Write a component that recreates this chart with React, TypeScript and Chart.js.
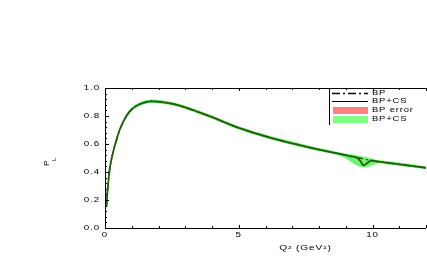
import React, { useEffect, useRef } from "react";
import { Chart, registerables } from "chart.js";

Chart.register(...registerables);

// ---- data ----
const Q2 = [0.05, 0.1, 0.15, 0.2, 0.3, 0.4, 0.5, 0.6, 0.8, 1.0, 1.25, 1.5, 1.75, 2.0, 2.5, 3.0, 3.5, 4.0, 5.0, 6.0, 7.0, 8.0, 8.8, 9.0, 9.2, 9.4, 9.55, 9.66, 9.8, 9.95, 10.1, 10.3, 10.5, 11.0, 12.0];
const BP = [0.15, 0.28, 0.38, 0.45, 0.54, 0.61, 0.675, 0.725, 0.8, 0.848, 0.88, 0.898, 0.905, 0.902, 0.888, 0.862, 0.828, 0.792, 0.715, 0.655, 0.605, 0.56, 0.528, 0.52, 0.512, 0.504, 0.498, 0.494, 0.488, 0.482, 0.477, 0.472, 0.467, 0.455, 0.43];
const BPCS = [0.15, 0.28, 0.38, 0.45, 0.54, 0.61, 0.675, 0.725, 0.8, 0.848, 0.88, 0.898, 0.905, 0.902, 0.888, 0.862, 0.828, 0.792, 0.715, 0.655, 0.605, 0.56, 0.528, 0.52, 0.512, 0.504, 0.478, 0.448, 0.463, 0.482, 0.477, 0.472, 0.467, 0.455, 0.43];
const BP_ERR_LO = [0.145, 0.274, 0.374, 0.444, 0.534, 0.604, 0.669, 0.719, 0.794, 0.842, 0.874, 0.892, 0.899, 0.896, 0.882, 0.856, 0.822, 0.786, 0.709, 0.649, 0.599, 0.554, 0.522, 0.514, 0.506, 0.498, 0.492, 0.488, 0.482, 0.476, 0.471, 0.466, 0.461, 0.449, 0.425];
const BP_ERR_HI = [0.155, 0.286, 0.386, 0.456, 0.546, 0.616, 0.681, 0.731, 0.806, 0.854, 0.886, 0.904, 0.911, 0.908, 0.894, 0.868, 0.834, 0.798, 0.721, 0.661, 0.611, 0.566, 0.534, 0.526, 0.518, 0.51, 0.504, 0.5, 0.494, 0.488, 0.483, 0.478, 0.473, 0.461, 0.435];
const BPCS_ERR_LO = [0.14, 0.268, 0.368, 0.438, 0.528, 0.598, 0.663, 0.713, 0.788, 0.836, 0.868, 0.886, 0.893, 0.89, 0.876, 0.85, 0.816, 0.78, 0.703, 0.643, 0.593, 0.548, 0.514, 0.497, 0.472, 0.449, 0.436, 0.432, 0.434, 0.446, 0.456, 0.462, 0.456, 0.444, 0.42];
const BPCS_ERR_HI = [0.16, 0.292, 0.392, 0.462, 0.552, 0.622, 0.687, 0.737, 0.812, 0.86, 0.892, 0.91, 0.917, 0.914, 0.9, 0.874, 0.84, 0.804, 0.727, 0.667, 0.617, 0.572, 0.54, 0.533, 0.526, 0.52, 0.515, 0.51, 0.503, 0.496, 0.489, 0.484, 0.479, 0.467, 0.44];

const X_LABEL_VALUES = [0, 5, 10];
const X_MINOR_VALUES = [1, 2, 3, 4, 6, 7, 8, 9, 11];
const Y_LABELS = ["0.0", "0.2", "0.4", "0.6", "0.8", "1.0"];
const Y_MINOR_STEP = 0.04;
const LEGEND_LABELS = ["BP", "BP+CS", "BP error", "BP+CS"];
const X_TITLE = "Q\u00B2 (GeV\u00B2)";

const LINE_COLOR = "#255f0e";
const RED_FILL = "rgb(255,128,128)";
const GREEN_FILL = "rgb(110,245,110)";
const GREEN_LEG = "rgb(128,255,128)";

const pts = (ys: number[]) => Q2.map((x, i) => ({ x, y: ys[i] }));

function stretchText(ctx: CanvasRenderingContext2D, text: string, x: number, y: number, align: CanvasTextAlign, size = 7, sx = 1.4) {
  ctx.save();
  ctx.font = `${size}px "Liberation Sans", Arial, sans-serif`;
  (ctx as any).letterSpacing = "0.6px";
  ctx.textBaseline = "middle";
  ctx.textAlign = align;
  ctx.fillStyle = "#000";
  ctx.translate(x, y);
  ctx.scale(sx, 1);
  ctx.fillText(text, 0, 0);
  ctx.restore();
}

const axesPlugin = {
  id: "customAxes",
  afterDraw(chart: any) {
    const ctx: CanvasRenderingContext2D = chart.ctx;
    const xs = chart.scales.x;
    const ys = chart.scales.y;
    const { left, right, top, bottom } = chart.chartArea;
    ctx.save();
    ctx.strokeStyle = "#000";
    ctx.lineWidth = 1;
    ctx.beginPath();
    ctx.moveTo(Math.round(left) + 0.5, top);
    ctx.lineTo(Math.round(left) + 0.5, Math.round(bottom) + 0.5);
    ctx.lineTo(right, Math.round(bottom) + 0.5);
    ctx.moveTo(Math.round(left) + 0.5, Math.round(top) + 0.5);
    ctx.lineTo(right, Math.round(top) + 0.5);
    ctx.stroke();
    ctx.beginPath();
    const xt = (v: number, len: number) => {
      const px = Math.round(xs.getPixelForValue(v)) + 0.5;
      ctx.moveTo(px, bottom);
      ctx.lineTo(px, bottom - len);
      ctx.moveTo(px, top);
      ctx.lineTo(px, top + len);
    };
    X_LABEL_VALUES.forEach((v) => xt(v, 3));
    X_MINOR_VALUES.forEach((v) => xt(v, 2));
    xt(12, 3);
    for (let v = 0; v <= 1.0001; v += Y_MINOR_STEP) {
      const py = Math.round(ys.getPixelForValue(v)) + 0.5;
      const major = Math.abs(v * 5 - Math.round(v * 5)) < 1e-6;
      ctx.moveTo(left, py);
      ctx.lineTo(left + (major ? 4 : 2), py);
    }
    ctx.stroke();
    X_LABEL_VALUES.forEach((v) => stretchText(ctx, String(v), xs.getPixelForValue(v), bottom + 7, "center"));
    Y_LABELS.forEach((t) => stretchText(ctx, t, left - 5, ys.getPixelForValue(parseFloat(t)), "right"));
    stretchText(ctx, X_TITLE, (left + right) / 2 + 40, bottom + 20, "center", 7, 1.45);
    ctx.save();
    ctx.translate(49, 166);
    ctx.rotate(-Math.PI / 2);
    ctx.fillStyle = "#000";
    ctx.font = '8px "Liberation Sans", Arial, sans-serif';
    ctx.textBaseline = "alphabetic";
    ctx.textAlign = "left";
    ctx.fillText("P", 0, 0);
    ctx.font = '6px "Liberation Sans", Arial, sans-serif';
    ctx.fillText("L", 5, 7);
    ctx.restore();

    const lx = 329.5;
    ctx.beginPath();
    ctx.moveTo(lx, top);
    ctx.lineTo(lx, 125);
    ctx.stroke();
    const rows = [93.5, 101.5, 110.5, 119.5];
    ctx.save();
    ctx.lineWidth = 1.5;
    ctx.setLineDash([8, 3, 2, 3]);
    ctx.beginPath();
    ctx.moveTo(332, rows[0]);
    ctx.lineTo(368, rows[0]);
    ctx.stroke();
    ctx.restore();
    ctx.beginPath();
    ctx.moveTo(332, rows[1]);
    ctx.lineTo(368, rows[1]);
    ctx.stroke();
    ctx.fillStyle = RED_FILL;
    ctx.fillRect(333, 107, 35, 7);
    ctx.fillStyle = GREEN_LEG;
    ctx.fillRect(333, 116, 35, 7);
    LEGEND_LABELS.forEach((t, i) => stretchText(ctx, t, 372, rows[i], "left", 7, 1.35));
    ctx.restore();
  },
};

export default function App() {
  const ref = useRef<HTMLCanvasElement>(null);
  useEffect(() => {
    if (!ref.current) return;
    const common = { pointRadius: 0, cubicInterpolationMode: "monotone" as const };
    const chart = new Chart(ref.current, {
      type: "line",
      data: {
        datasets: [
          { label: "BP+CS", data: pts(BPCS), borderColor: LINE_COLOR, borderWidth: 1.8, fill: false, ...common },
          { label: "BP", data: pts(BP), borderColor: LINE_COLOR, borderWidth: 1.5, borderDash: [8, 3, 2, 3], fill: false, ...common },
          { label: "BP+CS lo", data: pts(BPCS_ERR_LO), borderWidth: 0, fill: false, ...common },
          { label: "BP+CS err", data: pts(BPCS_ERR_HI), borderWidth: 0, backgroundColor: GREEN_FILL, fill: "-1", ...common },
          { label: "BP lo", data: pts(BP_ERR_LO), borderWidth: 0, fill: false, ...common },
          { label: "BP err", data: pts(BP_ERR_HI), borderWidth: 0, backgroundColor: RED_FILL, fill: "-1", ...common },
        ],
      },
      options: {
        animation: false,
        responsive: false,
        maintainAspectRatio: false,
        events: [],
        layout: { padding: { left: 105, right: 1, top: 88, bottom: 34 } },
        plugins: { legend: { display: false }, tooltip: { enabled: false }, filler: { propagate: false } },
        scales: {
          x: { type: "linear", min: 0, max: 12, display: false },
          y: { type: "linear", min: 0, max: 1, display: false },
        },
      },
      plugins: [axesPlugin],
    });
    return () => chart.destroy();
  }, []);
  return (
    <div style={{ position: "fixed", left: 0, top: 0, width: 427, height: 262, background: "#fff" }}>
      <canvas ref={ref} width={427} height={262} style={{ width: 427, height: 262 }} />
    </div>
  );
}
